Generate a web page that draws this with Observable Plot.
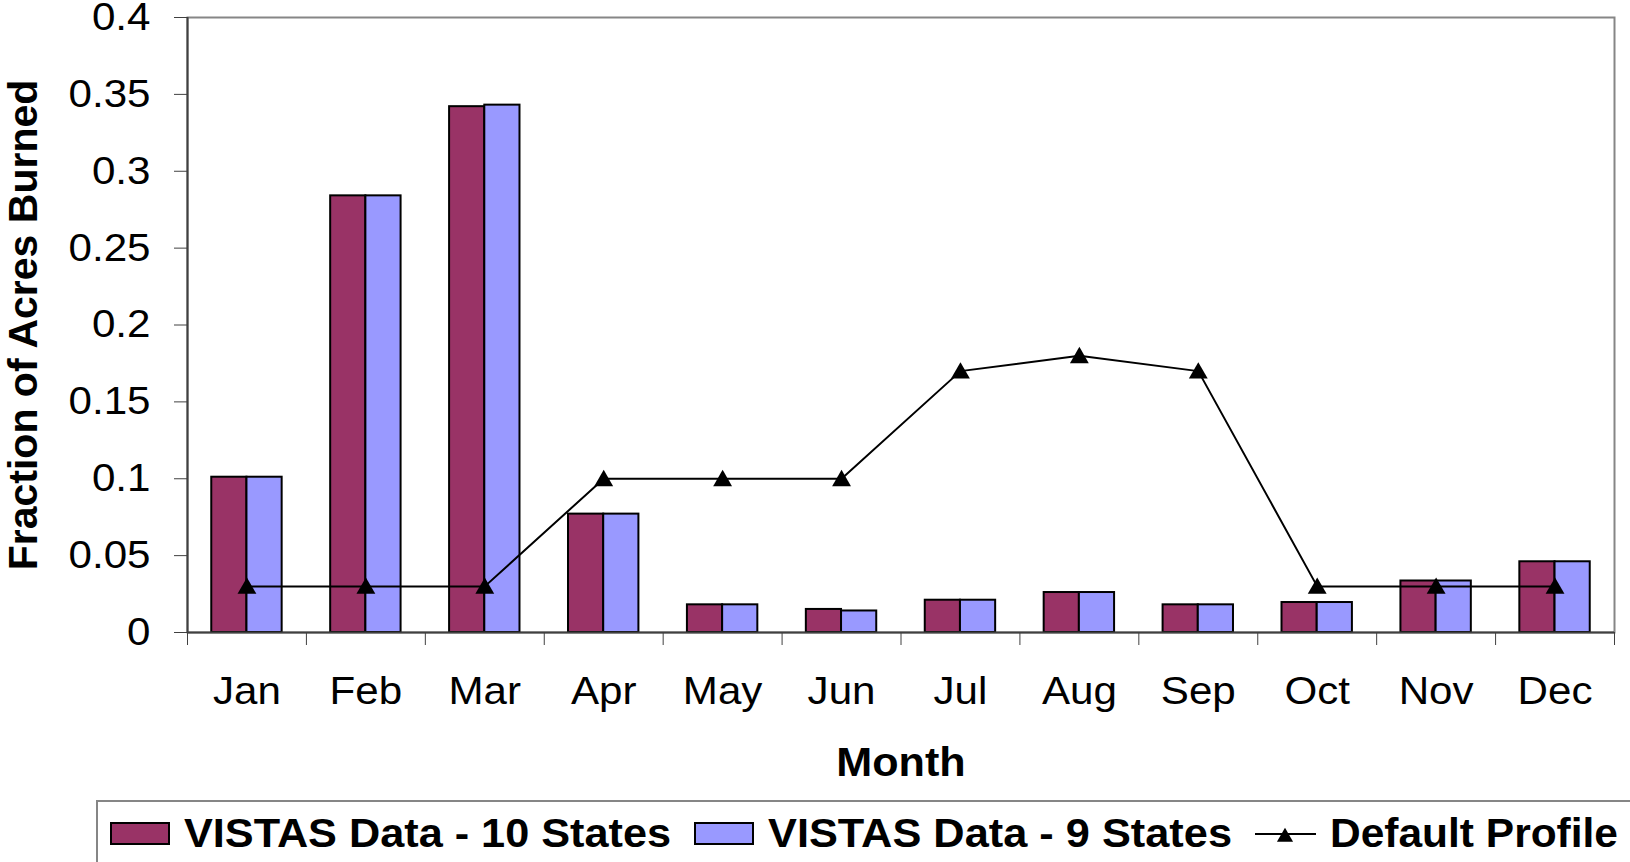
<!DOCTYPE html>
<html>
<head>
<meta charset="utf-8">
<script src="https://cdn.jsdelivr.net/npm/d3@7"></script>
<script src="https://cdn.jsdelivr.net/npm/@observablehq/plot@0.6"></script>
<style>
  html, body { margin: 0; padding: 0; background: white; overflow: hidden; }
  #chart svg { display: block; }
  #legend { display: block; }
</style>
</head>
<body>
<div id="chart"></div>
<svg id="legend" width="1630" height="62"></svg>
<script>
const months = ["Jan","Feb","Mar","Apr","May","Jun","Jul","Aug","Sep","Oct","Nov","Dec"];
const vistas10 = [0.101, 0.284, 0.342, 0.077, 0.018, 0.015, 0.021, 0.026, 0.018, 0.0195, 0.0335, 0.046];
const vistas9  = [0.101, 0.284, 0.343, 0.077, 0.018, 0.014, 0.021, 0.026, 0.018, 0.0195, 0.0335, 0.046];
const defaultProfile = [0.03, 0.03, 0.03, 0.1, 0.1, 0.1, 0.17, 0.18, 0.17, 0.03, 0.03, 0.03];
const yTicks = [0, 0.05, 0.1, 0.15, 0.2, 0.25, 0.3, 0.35, 0.4];
const seriesNames = ["VISTAS Data - 10 States", "VISTAS Data - 9 States", "Default Profile"];
const seriesColors = ["#993366", "#9999FF", "black"];
const xTitle = "Month";
const yTitle = "Fraction of Acres Burned";

const table = months.map((m, i) => ({month: m, v10: vistas10[i], v9: vistas9[i], def: defaultProfile[i]}));

const W = 1630, H = 800, ML = 187, MR = 16, MT = 17, MB = 168;
const bw = (W - ML - MR) / months.length;
const barW = 35.2;
const pad = (bw - 2 * barW) / 2;
const axisColor = "#404040";

const chart = Plot.plot({
  width: W, height: H,
  marginLeft: ML, marginRight: MR, marginTop: MT, marginBottom: MB,
  style: {fontFamily: "'Liberation Sans', Arial, sans-serif", color: "black", background: "white", overflow: "visible"},
  x: {type: "band", domain: months, padding: 0, round: false, axis: null},
  y: {domain: [0, 0.4], axis: null},
  marks: [
    Plot.frame({stroke: "#868686", strokeWidth: 2}),
    Plot.barY(table, {x: "month", y: "v10", fill: seriesColors[0], stroke: "black", strokeWidth: 2, insetLeft: pad, insetRight: pad + barW}),
    Plot.barY(table, {x: "month", y: "v9", fill: seriesColors[1], stroke: "black", strokeWidth: 2, insetLeft: pad + barW, insetRight: pad}),
    Plot.ruleY([0], {stroke: axisColor, strokeWidth: 2}),
    Plot.ruleX([months[0]], {x: d => d, y1: 0, y2: 0.4, dx: -bw / 2, stroke: axisColor, strokeWidth: 2}),
    Plot.axisY(yTicks, {tickSize: 13, tickPadding: 24, fontSize: 39, tickFormat: d => String(+d.toFixed(2)), stroke: axisColor, fill: "black", label: null}),
    Plot.axisX({tickSize: 13, fill: "none", dx: -bw / 2, stroke: axisColor, label: null}),
    Plot.axisX([months[months.length - 1]], {tickSize: 13, fill: "none", dx: bw / 2, stroke: axisColor, label: null}),
    Plot.axisX({tickSize: 0, tickPadding: 44, fontSize: 39, fill: "black", label: null}),
    Plot.line(table, {x: "month", y: "def", stroke: seriesColors[2], strokeWidth: 2}),
    Plot.dot(table, {x: "month", y: "def", symbol: "triangle", r: 7, fill: seriesColors[2], dy: 2}),
    Plot.text([yTitle], {text: d => d, frameAnchor: "left", textAnchor: "middle", lineAnchor: "middle", dx: -164, rotate: -90, fontSize: 41, fontWeight: "bold", fill: "black"}),
    Plot.text([xTitle], {text: d => d, frameAnchor: "bottom", dy: 143, fontSize: 40, fontWeight: "bold", fill: "black"})
  ]
});
document.getElementById("chart").appendChild(chart);

// Widen horizontal texts slightly to match the reference's rendering
chart.querySelectorAll("text").forEach(t => {
  if (!t.textContent || t.textContent === yTitle) return;
  const w = t.getComputedTextLength();
  if (w > 0) {
    t.setAttribute("textLength", (w * 1.08).toFixed(1));
    t.setAttribute("lengthAdjust", "spacingAndGlyphs");
  }
});

// Legend (below the plot)
const lg = d3.select("#legend");
lg.append("path").attr("d", "M97,62 V1 H1632").attr("fill", "none").attr("stroke", "#868686").attr("stroke-width", 2);
const font = "'Liberation Sans', Arial, sans-serif";
const items = [
  {kind: "rect", sx: 111, tx: 184, tl: 487},
  {kind: "rect", sx: 695, tx: 768, tl: 464},
  {kind: "line", sx: 1255, tx: 1330, tl: 288}
];
items.forEach((it, i) => {
  if (it.kind === "rect") {
    lg.append("rect").attr("x", it.sx).attr("y", 23).attr("width", 58).attr("height", 21)
      .attr("fill", seriesColors[i]).attr("stroke", "black").attr("stroke-width", 2);
  } else {
    lg.append("line").attr("x1", it.sx).attr("x2", it.sx + 61).attr("y1", 34).attr("y2", 34)
      .attr("stroke", seriesColors[i]).attr("stroke-width", 2);
    lg.append("path").attr("d", d3.symbol(d3.symbolTriangle, 113)()).attr("transform", `translate(${it.sx + 30},${37})`)
      .attr("fill", seriesColors[i]);
  }
  lg.append("text").attr("x", it.tx).attr("y", 46.7).attr("font-family", font).attr("font-size", 40)
    .attr("font-weight", "bold").attr("fill", "black").attr("textLength", it.tl).attr("lengthAdjust", "spacingAndGlyphs")
    .text(seriesNames[i]);
});
</script>
</body>
</html>
